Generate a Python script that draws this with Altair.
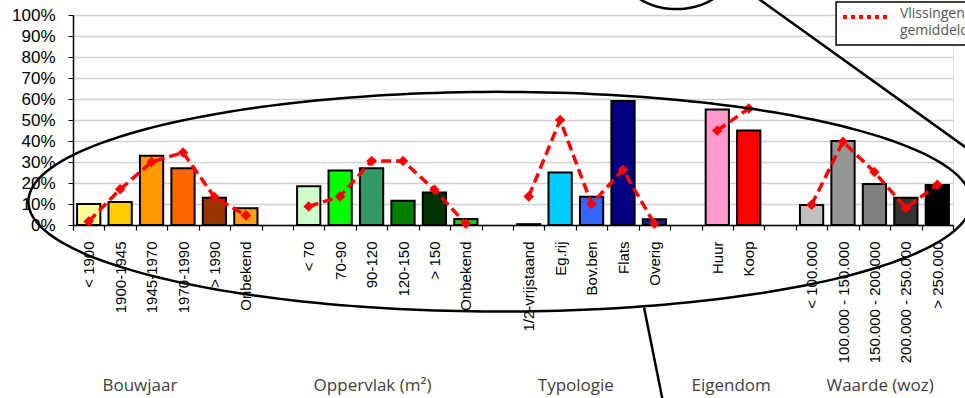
import altair as alt
import pandas as pd
import numpy as np

# ---- data ----
group_names = ["Bouwjaar", "Oppervlak (m²)", "Typologie", "Eigendom", "Waarde (woz)"]

bouwjaar_labels = ["< 1900", "1900-1945", "1945-1970", "1970-1990", "> 1990", "Onbekend"]
bouwjaar_values = [10, 11, 33, 27, 13, 8]
bouwjaar_avg = [1.7, 17, 30, 34.5, 13.3, 4.6]
bouwjaar_colors = ["#FFFF99", "#FFCC00", "#FF9900", "#FF6600", "#993300", "#FF9F1A"]

oppervlak_labels = ["< 70", "70-90", "90-120", "120-150", "> 150", "Onbekend"]
oppervlak_values = [18.5, 26, 27, 11.5, 15.5, 2.8]
oppervlak_avg = [8.8, 13.6, 30.5, 30.5, 16.8, 0.6]
oppervlak_colors = ["#CCFFCC", "#00FF00", "#339966", "#008000", "#003300", "#22C422"]

typologie_labels = ["1/2-vrijstaand", "Eg.rij", "Bov.ben", "Flats", "Overig"]
typologie_values = [0.4, 25, 13.5, 59, 2.7]
typologie_avg = [13.6, 50, 10, 26.3, 0.6]
typologie_colors = ["#000000", "#00CCFF", "#3366FF", "#000080", "#15208A"]

eigendom_labels = ["Huur", "Koop"]
eigendom_values = [55, 45]
eigendom_avg = [45, 55.5]
eigendom_colors = ["#FF99CC", "#FF0000"]

waarde_labels = ["< 100.000", "100.000 - 150.000", "150.000 - 200.000", "200.000 - 250.000", "> 250.000"]
waarde_values = [9.5, 40, 19.5, 13, 19]
waarde_avg = [9.6, 39.7, 25.2, 8.1, 19.2]
waarde_colors = ["#C0C0C0", "#969696", "#808080", "#333333", "#000000"]

legend_lines = ["Vlissingen", "gemiddelde"]

# ---- build table ----
groups = [
    (group_names[0], bouwjaar_labels, bouwjaar_values, bouwjaar_avg, bouwjaar_colors),
    (group_names[1], oppervlak_labels, oppervlak_values, oppervlak_avg, oppervlak_colors),
    (group_names[2], typologie_labels, typologie_values, typologie_avg, typologie_colors),
    (group_names[3], eigendom_labels, eigendom_values, eigendom_avg, eigendom_colors),
    (group_names[4], waarde_labels, waarde_values, waarde_avg, waarde_colors),
]
keys, rows, bar_keys, bar_cols = [], [], [], []
idx = 0
for gi, (gname, labs, vals, avgs, cols) in enumerate(groups):
    if gi > 0:
        keys.append(f"{idx:02d}|")
        idx += 1
    for lab, v, a, c in zip(labs, vals, avgs, cols):
        k = f"{idx:02d}|{lab}"
        keys.append(k)
        bar_keys.append(k)
        bar_cols.append(c)
        rows.append({"key": k, "group": gname, "value": v, "avg": a})
        idx += 1
df = pd.DataFrame(rows)
n_slots = len(keys)

# ---- decorations (callout ellipses / lines, in data space) ----
t = np.linspace(0, 2 * np.pi, 240)
deco = []
for i, tt in enumerate(t):
    deco.append({"part": "big", "ord": i, "px": 13.58 + 15.0 * np.cos(tt), "py": 11.1 + 52.3 * np.sin(tt)})
    deco.append({"part": "small", "ord": i, "px": 19.2 + 1.75 * np.cos(tt), "py": 121.8 + 19.0 * np.sin(tt)})
deco += [
    {"part": "call1", "ord": 0, "px": 21.2, "py": 114.3},
    {"part": "call1", "ord": 1, "px": 29.5, "py": 25.2},
    {"part": "call2", "ord": 0, "px": 18.17, "py": -39.3},
    {"part": "call2", "ord": 1, "px": 18.85, "py": -90},
]
deco_df = pd.DataFrame(deco)

titles_df = pd.DataFrame({
    "label": group_names,
    "tx": [2.13, 9.53, 16.0, 20.94, 25.68],
    "ty": [-79.2] * 5,
})

# legend (drawn by hand, like the clipped legend of the reference)
legend_box = pd.DataFrame({"x": [24.28], "x2": [29.5], "y": [106.2], "y2": [85.7]})
legend_sample = pd.DataFrame({"x": [24.5, 26.03], "y": [99.0, 99.0]})
legend_text = pd.DataFrame({"label": legend_lines, "x": [26.31, 26.31], "y": [98.5, 90.4]})

# ---- encodings ----
x_band = alt.X(
    "key:N",
    scale=alt.Scale(domain=keys, paddingInner=0, paddingOuter=0),
    axis=alt.Axis(
        title=None, labelAngle=-90, labelExpr="split(datum.value, '|')[1]",
        tickBand="extent", labelFont="Liberation Sans", labelFontSize=15,
        labelColor="black", labelPadding=11, tickSize=5, tickColor="black",
        tickWidth=1.2, domainColor="black", domainWidth=1.5, grid=False,
        labelOverlap=False, labelBaseline="middle",
    ),
)
y_axis = alt.Axis(
    title=None, values=list(range(0, 101, 10)), labelExpr="datum.value + '%'",
    labelFont="Liberation Sans", labelFontSize=17, labelColor="black",
    labelPadding=13, tickSize=5, tickColor="black", domainColor="black",
    domainWidth=1.5, gridColor="#D0D0D0", gridWidth=1.5,
)
y_scale = alt.Scale(domain=[0, 100], nice=False)

bars = alt.Chart(df).mark_bar(
    width=alt.RelativeBandSize(0.74), stroke="black", strokeWidth=2
).encode(
    x=x_band,
    y=alt.Y("value:Q", scale=y_scale, axis=y_axis),
    fill=alt.Fill("key:N", scale=alt.Scale(domain=bar_keys, range=bar_cols), legend=None),
)

line = alt.Chart(df).mark_line(strokeDash=[10, 5], strokeWidth=3.5, color="#FF0000").encode(
    x=x_band,
    y=alt.Y("avg:Q", scale=y_scale, axis=y_axis),
    detail="group:N",
)

points = alt.Chart(df).mark_point(
    shape="diamond", filled=True, size=110, color="#FF0000", opacity=1
).encode(x=x_band, y=alt.Y("avg:Q", scale=y_scale, axis=y_axis))

main = alt.layer(bars, line, points)

x_q = alt.Scale(domain=[0, n_slots], nice=False, zero=False)
ell = alt.Chart(deco_df).mark_line(stroke="black", strokeWidth=2.5).encode(
    x=alt.X("px:Q", scale=x_q, axis=None),
    y=alt.Y("py:Q", scale=y_scale, axis=y_axis),
    detail="part:N",
    order="ord:Q",
)
titles = alt.Chart(titles_df).mark_text(
    font="Open Sans", fontSize=17, color="#404040", baseline="alphabetic", align="center"
).encode(
    x=alt.X("tx:Q", scale=x_q, axis=None),
    y=alt.Y("ty:Q", scale=y_scale, axis=y_axis),
    text="label:N",
)
lbox = alt.Chart(legend_box).mark_rect(fill="white", stroke="black", strokeWidth=1.5).encode(
    x=alt.X("x:Q", scale=x_q, axis=None), x2="x2:Q",
    y=alt.Y("y:Q", scale=y_scale, axis=y_axis), y2="y2:Q",
)
lsample = alt.Chart(legend_sample).mark_line(
    color="#FF0000", strokeWidth=4, strokeDash=[4, 4]
).encode(
    x=alt.X("x:Q", scale=x_q, axis=None),
    y=alt.Y("y:Q", scale=y_scale, axis=y_axis),
)
ltext = alt.Chart(legend_text).mark_text(
    font="Open Sans", fontSize=14, color="#555555", baseline="alphabetic", align="left"
).encode(
    x=alt.X("x:Q", scale=x_q, axis=None),
    y=alt.Y("y:Q", scale=y_scale, axis=y_axis),
    text="label:N",
)
annot = alt.layer(ell, titles, lbox, lsample, ltext)

chart = alt.layer(main, annot).resolve_scale(x="independent").properties(
    width=880, height=210,
    padding={"left": 73, "top": 15, "right": 12, "bottom": 173},
    autosize=alt.AutoSizeParams(type="none"),
).configure_view(strokeWidth=0).configure(background="white")

chart.save("out.html", embed_options={"renderer": "svg", "actions": False})
